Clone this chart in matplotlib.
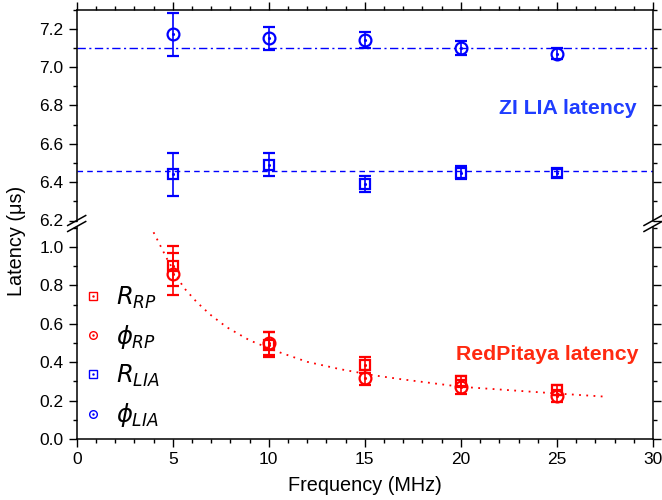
import numpy as np
import matplotlib
matplotlib.use('Agg')
import matplotlib.pyplot as plt
from matplotlib.lines import Line2D

plt.rcParams['font.family'] = ['Liberation Sans', 'DejaVu Sans']
plt.rcParams['mathtext.fontset'] = 'dejavusans'

# data
freq = [5, 10, 15, 20, 25]

phi_lia = [7.17, 7.15, 7.14, 7.10, 7.07]
phi_lia_err = [0.11, 0.06, 0.043, 0.035, 0.03]
r_lia = [6.44, 6.49, 6.39, 6.45, 6.447]
r_lia_err = [0.11, 0.06, 0.042, 0.033, 0.02]
phi_lia_mean = 7.10
r_lia_mean = 6.46

r_rp = [0.90, 0.49, 0.385, 0.30, 0.255]
r_rp_err = [0.105, 0.065, 0.04, 0.03, 0.025]
phi_rp = [0.86, 0.50, 0.32, 0.27, 0.225]
phi_rp_err = [0.11, 0.06, 0.04, 0.035, 0.03]

# dotted fit curve
fit_x = [4.0, 4.7, 5.55, 6.25, 6.95, 7.8, 9.0, 10.4, 12.0, 13.7, 15.45, 16.85, 20.0, 25.0, 27.6]
fit_y = [1.077, 0.939, 0.791, 0.713, 0.648, 0.583, 0.514, 0.457, 0.402, 0.364, 0.332, 0.312, 0.272, 0.237, 0.22]

blue = '#0000ff'
red = '#ff0000'

W, H = 662, 500
fig = plt.figure(figsize=(6.62, 5.0), dpi=100)
left, right = 76.7 / W, 653 / W
ax_top = fig.add_axes([left, 1 - 220.5 / H, right - left, (220.5 - 9.5) / H])
ax_bot = fig.add_axes([left, 1 - 439 / H, right - left, (439 - 226.5) / H])


def draw(ax, y, yerr, color, marker, ms):
    ax.errorbar(freq, y, yerr=yerr, fmt=marker, color=color, mfc='none', mec=color,
                ms=ms, mew=1.6, elinewidth=1.2, capsize=4.3, capthick=1.2, zorder=3)
    ax.plot(freq, y, '.', color=color, ms=2.5, zorder=4)


# top: ZI LIA
ax_top.axhline(phi_lia_mean, color=blue, ls=(0, (6, 2.5, 1.5, 2.5)), lw=1)
ax_top.axhline(r_lia_mean, color=blue, ls=(0, (4, 3)), lw=1)
draw(ax_top, phi_lia, phi_lia_err, blue, 'o', 8.5)
draw(ax_top, r_lia, r_lia_err, blue, 's', 7.5)
ax_top.text(0.972, 0.504, 'ZI LIA latency', transform=ax_top.transAxes, ha='right',
            va='baseline', color='#1f3dff', fontsize=15.3, fontweight='bold')

# bottom: RedPitaya
ax_bot.plot(fit_x, fit_y, color=red, ls=(0, (1, 3)), lw=1.3)
draw(ax_bot, r_rp, r_rp_err, red, 's', 7.5)
draw(ax_bot, phi_rp, phi_rp_err, red, 'o', 8.5)
ax_bot.text(0.975, 0.374, 'RedPitaya latency', transform=ax_bot.transAxes, ha='right',
            va='baseline', color='#ff2a10', fontsize=15.3, fontweight='bold')

for ax in (ax_top, ax_bot):
    ax.set_xlim(0, 30)
    ax.set_xticks(np.arange(0, 31, 5))
    ax.set_xticks(np.arange(0, 31, 1), minor=True)
    for s in ax.spines.values():
        s.set_linewidth(1.1)
    ax.tick_params(which='both', direction='out', left=True, right=True, labelright=False,
                   labelsize=12.5, width=1.0)
    ax.tick_params(which='major', length=6)
    ax.tick_params(which='minor', length=3)

ax_top.set_ylim(6.2, 7.3)
ax_top.set_yticks(np.arange(6.2, 7.21, 0.2))
ax_top.set_yticks(np.arange(6.2, 7.31, 0.1), minor=True)
ax_top.spines['bottom'].set_visible(False)
ax_top.tick_params(axis='x', which='both', bottom=False, top=True, labelbottom=False)

ax_bot.set_ylim(0, 1.107)
ax_bot.set_yticks(np.arange(0, 1.01, 0.2))
ax_bot.set_yticks(np.arange(0, 1.11, 0.1), minor=True)
ax_bot.spines['top'].set_visible(False)
ax_bot.tick_params(axis='x', which='both', top=False, bottom=True)
ax_bot.set_xlabel('Frequency (MHz)', fontsize=14.3, labelpad=6)

fig.text(17 / W, 1 - 241 / H, 'Latency (\u03bcs)', rotation=90, ha='center', va='center', fontsize=14.3)

# break marks
for px in (76.7, 653):
    for py in (220.5, 226.5):
        fig.add_artist(Line2D([(px - 9) / W, (px + 9) / W], [1 - (py + 5) / H, 1 - (py - 5) / H],
                              color='black', lw=1.1, transform=fig.transFigure))

# legend
def handle(color, marker):
    return (Line2D([], [], ls='none', marker=marker, mfc='none', mec=color, ms=5.5, mew=1),
            Line2D([], [], ls='none', marker='.', color=color, ms=1.5))

handles = [handle(red, 's'), handle(red, 'o'), handle(blue, 's'), handle(blue, 'o')]
labels = [r'$R_{RP}$', r'$\phi_{RP}$', r'$R_{LIA}$', r'$\phi_{LIA}$']
ax_bot.legend(handles, labels, loc='center left', bbox_to_anchor=(0.0075, 0.387),
              frameon=False, fontsize=17.5, handlelength=1.0, handletextpad=0.42,
              borderpad=0, borderaxespad=0, labelspacing=0.5)

fig.savefig('out.png', dpi=100)
